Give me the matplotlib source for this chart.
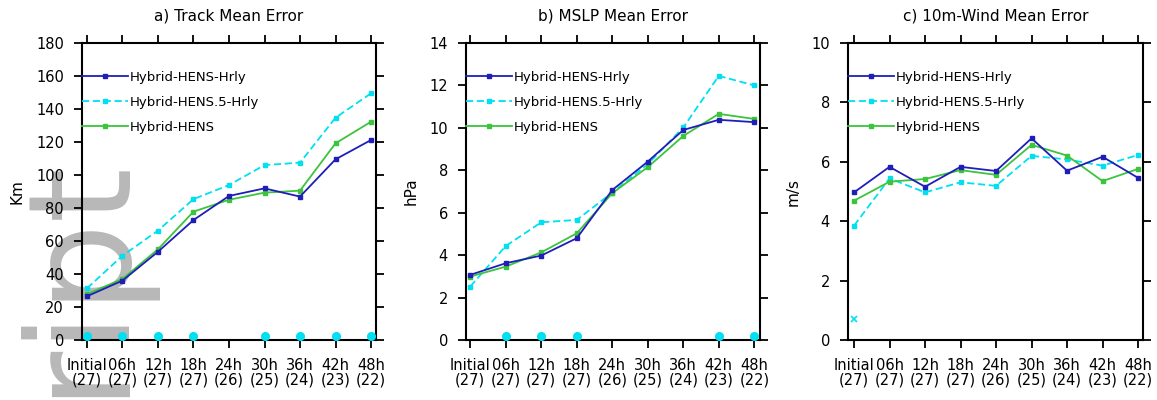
import matplotlib
matplotlib.use("Agg")
import matplotlib.pyplot as plt
import numpy as np

plt.rcParams['font.family'] = ['DejaVu Sans']

# ---------------- data ----------------
lead_labels = ["Initial", "06h", "12h", "18h", "24h", "30h", "36h", "42h", "48h"]
case_counts = [27, 27, 27, 27, 26, 25, 24, 23, 22]
series_names = ["Hybrid-HENS-Hrly", "Hybrid-HENS.5-Hrly", "Hybrid-HENS"]

track_hrly = [26.5, 36.0, 53.5, 72.7, 87.3, 91.9, 86.9, 109.5, 121.2]
track_hens5 = [31.3, 51.1, 66.3, 85.4, 93.9, 106.0, 107.5, 134.7, 149.5]
track_hens = [27.8, 37.0, 55.0, 77.8, 85.0, 89.3, 90.5, 119.2, 132.3]
track_sig = [1, 1, 1, 1, 0, 1, 1, 1, 1]

mslp_hrly = [3.07, 3.62, 3.98, 4.80, 7.07, 8.41, 9.90, 10.38, 10.27]
mslp_hens5 = [2.52, 4.43, 5.55, 5.66, 6.95, 8.29, 10.02, 12.45, 12.00]
mslp_hens = [2.99, 3.46, 4.13, 5.03, 6.92, 8.15, 9.62, 10.66, 10.42]
mslp_sig = [0, 1, 1, 1, 0, 0, 0, 1, 1]

wind_hrly = [4.97, 5.83, 5.16, 5.83, 5.69, 6.79, 5.70, 6.17, 5.46]
wind_hens5 = [3.85, 5.44, 4.97, 5.31, 5.19, 6.20, 6.08, 5.87, 6.23]
wind_hens = [4.69, 5.33, 5.42, 5.72, 5.56, 6.57, 6.21, 5.35, 5.76]
wind_extra_x = [0]
wind_extra_y = [0.70]

titles = ["a) Track Mean Error", "b) MSLP Mean Error", "c) 10m-Wind Mean Error"]
ylabels = ["Km", "hPa", "m/s"]
ylims = [(0, 180), (0, 14), (0, 10)]
ysteps = [20, 2, 2]

colors = ["#1f1fb8", "#00e0f0", "#3cc43c"]

# ---------------- figure ----------------
fig = plt.figure(figsize=(11.57, 4.0), dpi=100)

# watermark (behind everything)
fig.text(118 / 1157, 3 / 400, "ript", rotation=90, rotation_mode="anchor",
         ha="left", va="baseline", fontsize=102, color="#b8b8b8", zorder=-5,
         family="DejaVu Sans")

positions = [
    [82 / 1157, 60 / 400, 294 / 1157, 297 / 400],
    [466 / 1157, 60 / 400, 294 / 1157, 297 / 400],
    [848 / 1157, 60 / 400, 295 / 1157, 297 / 400],
]
xlims = [(-0.14, 8.14), (-0.12, 8.16), (-0.17, 8.14)]

data = [
    (track_hrly, track_hens5, track_hens, track_sig),
    (mslp_hrly, mslp_hens5, mslp_hens, mslp_sig),
    (wind_hrly, wind_hens5, wind_hens, None),
]

x = np.arange(len(lead_labels))
xticklabels = [f"{l}\n({c})" for l, c in zip(lead_labels, case_counts)]

for i in range(3):
    ax = fig.add_axes(positions[i])
    ax.set_facecolor("none")
    hrly, hens5, hens, sig = data[i]
    ax.plot(x, hrly, color=colors[0], lw=1.3, marker="s", ms=3,
            label=series_names[0], zorder=4)
    ax.plot(x, hens5, color=colors[1], lw=1.3, marker="s", ms=3,
            dashes=[4, 2], label=series_names[1], zorder=3)
    ax.plot(x, hens, color=colors[2], lw=1.3, marker="s", ms=3,
            label=series_names[2], zorder=3)

    y0, y1 = ylims[i]
    if sig is not None:
        sx = [xx for xx, s in zip(x, sig) if s]
        sy = [y0 + 0.013 * (y1 - y0)] * len(sx)
        ax.plot(sx, sy, ls="none", marker="o", ms=5.5, color=colors[1],
                clip_on=False, zorder=5)
    if i == 2:
        ax.plot(wind_extra_x, wind_extra_y, ls="none", marker="x", ms=5,
                mew=1.2, color=colors[1], zorder=5)

    ax.set_xlim(*xlims[i])
    ax.set_ylim(y0, y1)
    ax.set_yticks(np.arange(y0, y1 + 0.001, ysteps[i]))
    ax.set_xticks(x)
    ax.set_xticklabels(xticklabels, linespacing=0.95)
    ax.tick_params(axis="both", direction="out", length=6, width=1.3,
                   top=True, right=True, labelsize=10.5, colors="black")
    ax.tick_params(axis="x", pad=7)
    ax.tick_params(axis="y", pad=7)
    for sp in ax.spines.values():
        sp.set_linewidth(1.5)
    ax.set_title(titles[i], fontsize=11, pad=16)
    ax.set_ylabel(ylabels[i], fontsize=11, labelpad=8)

    leg = ax.legend(loc="upper left", bbox_to_anchor=(0, 0.907),
                    frameon=False, borderaxespad=0, borderpad=0,
                    handlelength=3.5, handletextpad=0.15, labelspacing=0.91,
                    numpoints=1, fontsize=9.5)

fig.savefig("out.png", dpi=100)
